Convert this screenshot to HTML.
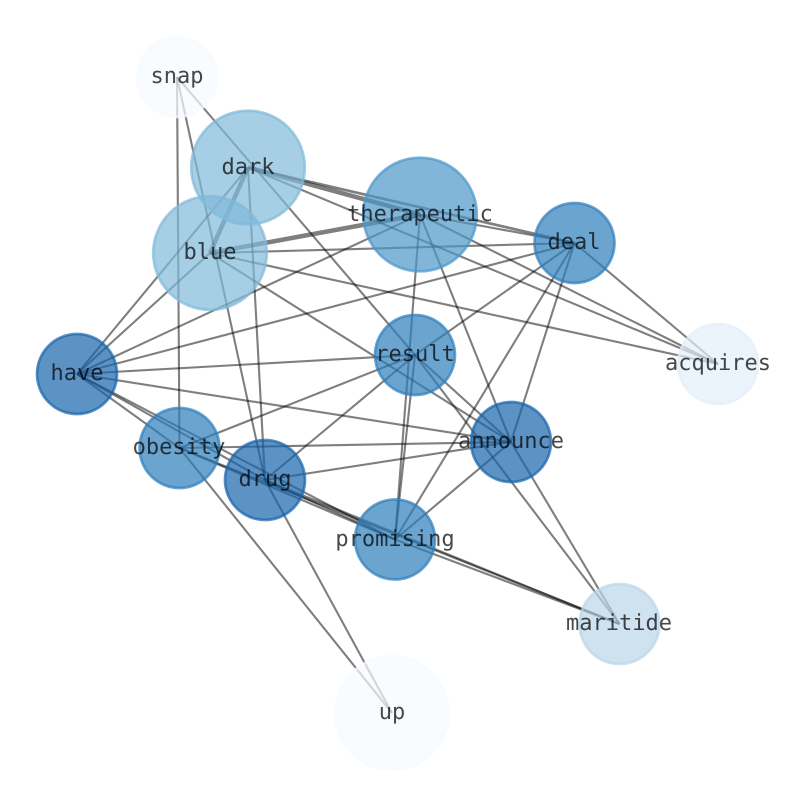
<!DOCTYPE html>
<html><head><meta charset="utf-8"><style>
html,body{margin:0;padding:0;background:#fff}
svg{display:block}
text{font-family:"DejaVu Sans Mono","Liberation Mono",monospace;font-size:22px;fill:#000;fill-opacity:.72;text-anchor:middle;text-rendering:geometricPrecision}
line{stroke:#000;stroke-opacity:.5;stroke-width:2.1}
circle{stroke-width:2.7;fill-opacity:.7;stroke-opacity:.7}
</style></head><body>
<svg width="794" height="790" viewBox="0 0 794 790" xmlns="http://www.w3.org/2000/svg">
<g>
<line x1="177" y1="77" x2="179.5" y2="448"/>
<line x1="177" y1="77" x2="265" y2="480"/>
<line x1="177" y1="77" x2="415" y2="355"/>
<line x1="248" y1="167.5" x2="210" y2="253" style="stroke-width:4.5"/>
<line x1="248" y1="167.5" x2="420" y2="214.5" style="stroke-width:4.5"/>
<line x1="248" y1="167.5" x2="574.5" y2="243" style="stroke-width:2.6"/>
<line x1="248" y1="167.5" x2="77" y2="374"/>
<line x1="248" y1="167.5" x2="265" y2="480"/>
<line x1="248" y1="167.5" x2="718" y2="364"/>
<line x1="210" y1="253" x2="420" y2="214.5" style="stroke-width:4.5"/>
<line x1="210" y1="253" x2="574.5" y2="243"/>
<line x1="210" y1="253" x2="77" y2="374"/>
<line x1="210" y1="253" x2="718" y2="364"/>
<line x1="210" y1="253" x2="511" y2="442"/>
<line x1="420" y1="214.5" x2="574.5" y2="243"/>
<line x1="420" y1="214.5" x2="77" y2="374"/>
<line x1="420" y1="214.5" x2="395" y2="539.5"/>
<line x1="420" y1="214.5" x2="511" y2="442"/>
<line x1="420" y1="214.5" x2="718" y2="364"/>
<line x1="574.5" y1="243" x2="77" y2="374"/>
<line x1="574.5" y1="243" x2="415" y2="355"/>
<line x1="574.5" y1="243" x2="395" y2="539.5"/>
<line x1="574.5" y1="243" x2="511" y2="442"/>
<line x1="574.5" y1="243" x2="718" y2="364"/>
<line x1="77" y1="374" x2="415" y2="355"/>
<line x1="77" y1="374" x2="511" y2="442"/>
<line x1="77" y1="374" x2="179.5" y2="448"/>
<line x1="77" y1="374" x2="265" y2="480"/>
<line x1="77" y1="374" x2="395" y2="539.5"/>
<line x1="415" y1="355" x2="179.5" y2="448"/>
<line x1="415" y1="355" x2="265" y2="480"/>
<line x1="415" y1="355" x2="511" y2="442"/>
<line x1="415" y1="355" x2="395" y2="539.5"/>
<line x1="415" y1="355" x2="619.5" y2="624"/>
<line x1="511" y1="442" x2="179.5" y2="448"/>
<line x1="511" y1="442" x2="265" y2="480"/>
<line x1="511" y1="442" x2="395" y2="539.5"/>
<line x1="511" y1="442" x2="619.5" y2="624"/>
<line x1="179.5" y1="448" x2="395" y2="539.5"/>
<line x1="179.5" y1="448" x2="619.5" y2="624"/>
<line x1="179.5" y1="448" x2="392" y2="713"/>
<line x1="265" y1="480" x2="395" y2="539.5"/>
<line x1="265" y1="480" x2="619.5" y2="624"/>
<line x1="265" y1="480" x2="392" y2="713"/>
<line x1="395" y1="539.5" x2="619.5" y2="624"/>
</g>
<g>
<circle cx="177" cy="77" r="40" fill="#f7fbff" stroke="#f7fbff"/>
<circle cx="248" cy="167.5" r="56.8" fill="#80b9da" stroke="#80b9da"/>
<circle cx="420" cy="214.5" r="56.8" fill="#4b97c9" stroke="#4b97c9"/>
<circle cx="210" cy="253" r="56.8" fill="#80b9da" stroke="#80b9da"/>
<circle cx="574.5" cy="243" r="40" fill="#2e7ebc" stroke="#2e7ebc"/>
<circle cx="77" cy="374" r="40" fill="#1764ab" stroke="#1764ab"/>
<circle cx="415" cy="355" r="40" fill="#2e7ebc" stroke="#2e7ebc"/>
<circle cx="718" cy="364" r="40" fill="#e2eef9" stroke="#e2eef9"/>
<circle cx="511" cy="442" r="40" fill="#1764ab" stroke="#1764ab"/>
<circle cx="179.5" cy="448" r="40" fill="#2e7ebc" stroke="#2e7ebc"/>
<circle cx="265" cy="480" r="40" fill="#1764ab" stroke="#1764ab"/>
<circle cx="395" cy="539.5" r="40" fill="#2e7ebc" stroke="#2e7ebc"/>
<circle cx="619.5" cy="624" r="40" fill="#bbd5ea" stroke="#bbd5ea"/>
<circle cx="392" cy="713" r="56.8" fill="#f7fbff" stroke="#f7fbff"/>
</g>
<g>
<text x="177" y="83">snap</text>
<text x="248" y="174">dark</text>
<text x="420" y="221">therapeutic</text>
<text x="210" y="259">blue</text>
<text x="574" y="249">deal</text>
<text x="77" y="380">have</text>
<text x="415" y="361">result</text>
<text x="718" y="370">acquires</text>
<text x="511" y="448">announce</text>
<text x="179" y="454">obesity</text>
<text x="265" y="486">drug</text>
<text x="395" y="546">promising</text>
<text x="619" y="630">maritide</text>
<text x="392" y="719">up</text>
</g>
</svg>
</body></html>
